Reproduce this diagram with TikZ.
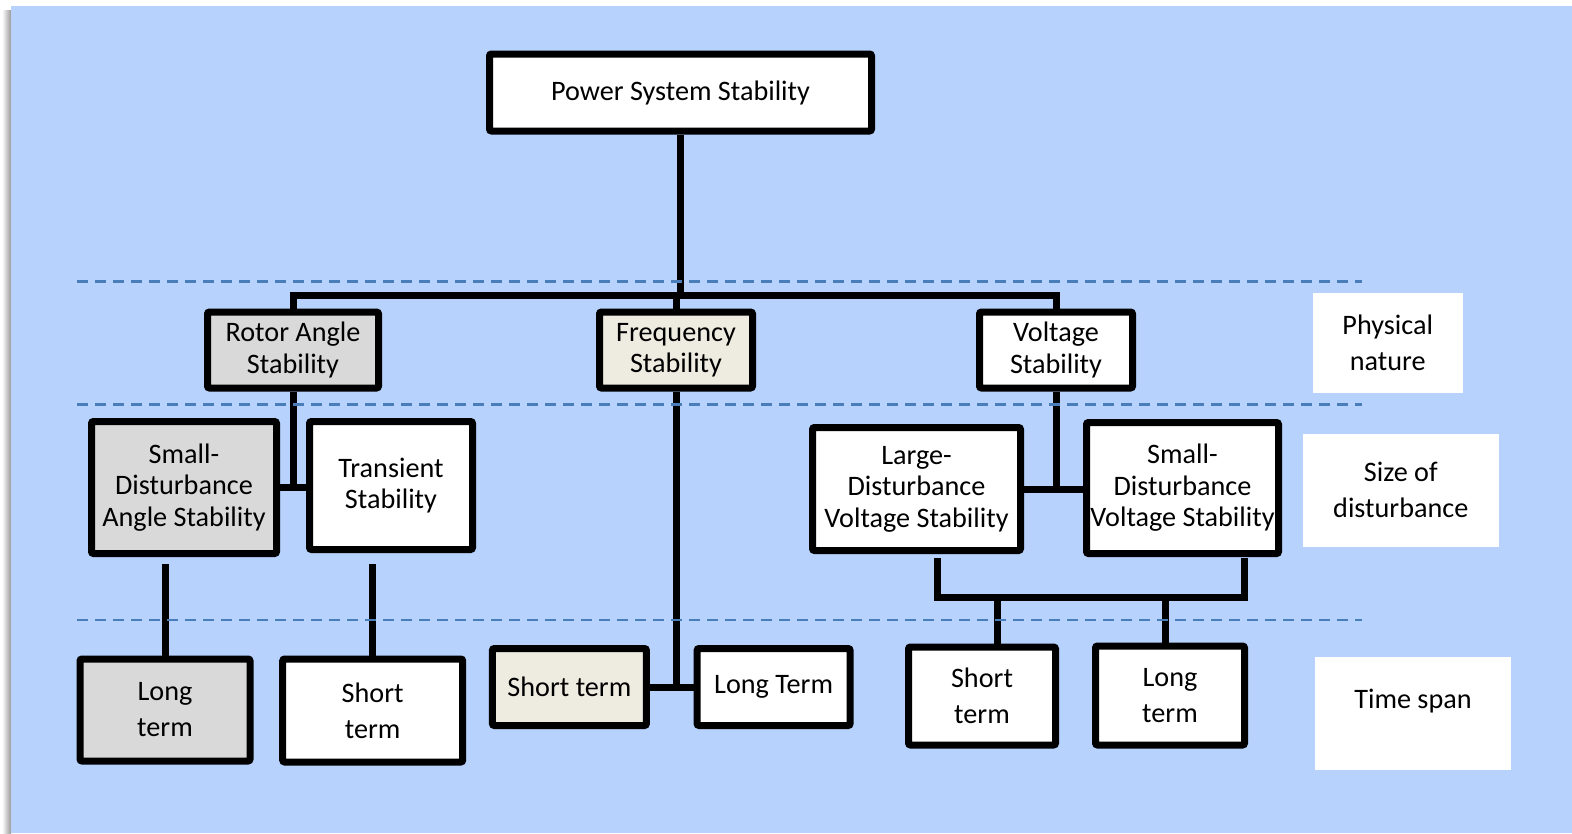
\documentclass[tikz,border=0pt]{standalone}
\usepackage{fontspec}
\setmainfont{Carlito}

\definecolor{bgblue}{HTML}{B7D2FD}
\definecolor{gridblue}{HTML}{4A7EBB}
\definecolor{boxgray}{HTML}{D9D9D9}
\definecolor{boxbeige}{HTML}{EEECE1}

\begin{document}
\begin{tikzpicture}[x=1pt, y=-1pt,
	box/.style={draw, line width=7pt, rounded corners=2pt, fill=white,
		align=center, inner sep=0pt, font=\fontsize{28.2}{31.5}\selectfont},
	greybox/.style={box, fill=boxgray},
	beigebox/.style={box, fill=boxbeige},
	lowbox/.style={font=\fontsize{28.2}{36}\selectfont},
	tag/.style={fill=white, align=center, inner sep=0pt,
		font=\fontsize{28.2}{36}\selectfont},
	link/.style={line width=7pt},
	level/.style={gridblue, line width=2.5pt, dash pattern=on 11pt off 7pt}]
	\useasboundingbox (0,0) rectangle (1572,833);
	% page with its shadow
	\shade[left color=white, right color=black!40] (2,10) rectangle (11,833);
	\fill[bgblue] (11,6) rectangle (1572,833);

	% tree
	\node[box, minimum width=382, minimum height=77] (pss) at (680.5,92.5) {Power System Stability};
	\node[greybox, minimum width=171, minimum height=76] (rotor) at (293,350) {Rotor Angle\\Stability};
	\node[beigebox, minimum width=153, minimum height=76] (freq) at (676,350) {Frequency\\Stability};
	\node[box, minimum width=153, minimum height=76] (volt) at (1056,350) {Voltage\\Stability};

	\node[greybox, minimum width=185, minimum height=132] (sdas) at (184,487.5) {Small-\\Disturbance\\Angle Stability};
	\node[box, minimum width=163, minimum height=128] (trans) at (391,485.5) {Transient\\Stability};
	\node[box, minimum width=208, minimum height=123] (ldvs) at (916.5,489) {Large-\\Disturbance\\Voltage Stability};
	\node[box, minimum width=192, minimum height=131] (sdvs) at (1182.5,488) {Small-\\Disturbance\\Voltage Stability};

	\node[greybox, lowbox, minimum width=170, minimum height=102] (lt1) at (165,710) {Long\\term};
	\node[box, lowbox, minimum width=180, minimum height=103] (st1) at (372.7,710.5) {Short\\term};
	\node[beigebox, minimum width=154, minimum height=77] (st2) at (569.4,687) {Short term};
	\node[box, minimum width=153, minimum height=77] (lt2) at (773.6,687) {Long Term};
	\node[box, lowbox, minimum width=147, minimum height=98] (st3) at (982,696) {Short\\term};
	\node[box, lowbox, minimum width=149, minimum height=99] (lt3) at (1170,695.5) {Long\\term};

	% side labels
	\node[tag, minimum width=150, minimum height=100] (phys) at (1387.7,342.7) {Physical\\nature};
	\node[tag, minimum width=196, minimum height=112.7] (size) at (1400.8,490.3) {Size of\\disturbance};
	\node[tag, minimum width=196, minimum height=113.3, text height=20pt, text depth=30pt] (span) at (1413,713.3) {Time span};

	% connectors
	\coordinate (bus) at (680,295);
	\draw[link] (pss.south) -- (pss.south |- bus);
	\draw[link] (rotor.north) -- (rotor.north |- bus) -- (volt.north |- bus) -- (volt.north);
	\draw[link] (freq.north) -- (freq.north |- bus);

	\draw[link] (rotor.south) -- (rotor.south |- sdas.east);
	\draw[link] (sdas.east) -- (sdas.east -| trans.west);
	\draw[link, shorten >=7pt] (lt1.north) -- (lt1.north |- sdas.south);
	\draw[link, shorten >=11pt] (st1.north) -- (st1.north |- trans.south);

	\draw[link] (freq.south) -- (freq.south |- st2.east);
	\draw[link] (st2.east) -- (lt2.west);

	\draw[link] (volt.south) -- (volt.south |- ldvs.east);
	\draw[link] (ldvs.east) -- (ldvs.east -| sdvs.west);
	\coordinate (vl) at (937.5,558);
	\coordinate (vr) at (1244,558);
	\coordinate (vbus) at (1090,597);
	\draw[link] (vl) |- (vbus) -| (vr);
	\draw[link] ([xshift=15pt]st3.north) -- ([xshift=15pt]st3.north |- vbus);
	\draw[link] ([xshift=-5pt]lt3.north) -- ([xshift=-5pt]lt3.north |- vbus);

	% level separators
	\foreach \y in {281.7,404.3,620}
		\draw[level] (77,\y) -- (1362,\y);
\end{tikzpicture}
\end{document}
